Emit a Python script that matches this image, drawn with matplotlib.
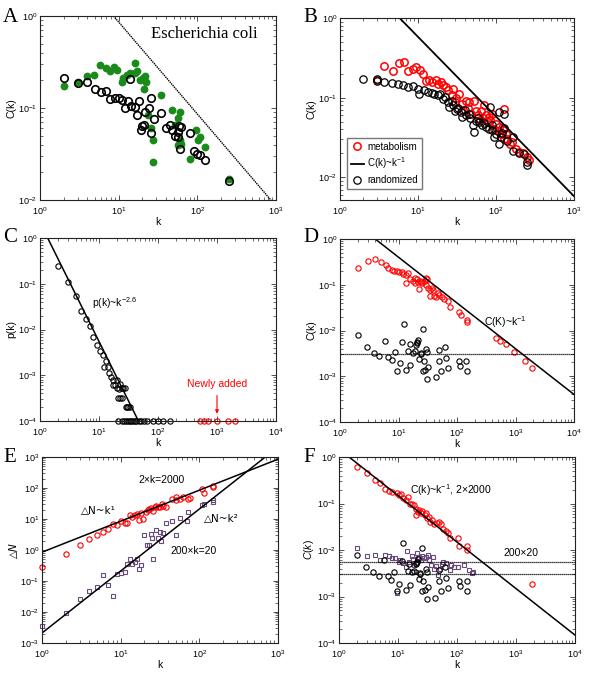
import matplotlib
matplotlib.use("Agg")
import matplotlib.pyplot as plt
import numpy as np

plt.rcParams['font.family'] = ['Liberation Sans', 'DejaVu Sans']
plt.rcParams['mathtext.fontset'] = 'custom'
plt.rcParams['mathtext.rm'] = 'Liberation Sans'
plt.rcParams['mathtext.it'] = 'Liberation Sans:italic'

# ---- panel A: E. coli, real (green) vs randomized (black)
a_rand_k = [2, 3, 4, 5, 6, 7, 7.7, 9, 10, 11, 12, 13, 14.5, 16, 17, 18, 14, 20, 19, 21, 21.5, 24, 26, 26,
            28, 35, 40, 45, 47, 52, 56, 58, 60, 62, 57, 80, 90, 98, 108, 127, 250]
a_rand_c = [0.214, 0.185, 0.19, 0.16, 0.15, 0.153, 0.125, 0.13, 0.127, 0.122, 0.1, 0.12, 0.106, 0.103,
            0.084, 0.12, 0.205, 0.063, 0.058, 0.065, 0.09, 0.1, 0.13, 0.054, 0.076, 0.088, 0.06, 0.065,
            0.057, 0.05, 0.055, 0.064, 0.036, 0.062, 0.049, 0.054, 0.034, 0.032, 0.031, 0.027, 0.016]
a_real_k = [2, 3, 4, 4.8, 5.8, 7, 7.7, 8.6, 9.4, 11, 11.4, 12.6, 14, 16, 16, 17, 18.7, 20.5, 21.5, 22.5,
            21, 23.7, 26, 27.5, 27, 35, 47, 52, 57, 60, 60, 57, 62, 80, 96, 108, 102, 125, 250]
a_real_c = [0.173, 0.19, 0.22, 0.23, 0.29, 0.27, 0.25, 0.28, 0.26, 0.19, 0.21, 0.23, 0.24, 0.31, 0.24,
            0.25, 0.2, 0.21, 0.22, 0.19, 0.16, 0.084, 0.06, 0.045, 0.026, 0.14, 0.095, 0.065, 0.077,
            0.09, 0.045, 0.04, 0.041, 0.028, 0.057, 0.049, 0.045, 0.038, 0.017]
a_fit_amp = 8.6

# ---- panel B: metabolism (red) vs randomized (black)
b_met_k = [3, 3.7, 4.8, 5.7, 6.7, 7.4, 8.6, 9.5, 10.5, 11.5, 12.5, 14, 15, 17, 18, 20, 21, 23, 24, 27,
           28, 31, 34, 37, 41, 45, 52, 55, 64, 70, 75, 82, 90, 100, 110, 122, 135, 128, 128, 150, 180,
           220, 250, 265, 30, 38, 44, 48, 58, 62, 68, 78, 85, 95, 105, 115, 140, 160, 200]
b_met_c = [0.166, 0.25, 0.215, 0.27, 0.28, 0.215, 0.23, 0.245, 0.22, 0.2, 0.16, 0.165, 0.157, 0.165,
           0.148, 0.157, 0.143, 0.137, 0.124, 0.107, 0.13, 0.1, 0.11, 0.084, 0.092, 0.088, 0.092, 0.069,
           0.069, 0.08, 0.06, 0.057, 0.063, 0.047, 0.043, 0.039, 0.035, 0.072, 0.03, 0.026, 0.023, 0.02,
           0.018, 0.0165, 0.088, 0.07, 0.075, 0.062, 0.06, 0.052, 0.055, 0.05, 0.052, 0.04, 0.038, 0.035,
           0.03, 0.028, 0.021]
b_rnd_k = [2, 3, 3, 3.7, 4.6, 5.6, 6.5, 7.5, 8.6, 10, 10.4, 12, 13.5, 15, 16, 18, 19, 21, 22.5, 24, 25,
           28, 29.5, 32, 36, 37, 41, 45, 50, 52, 55, 60, 66, 75, 82, 84, 90, 95, 100, 110, 110, 115, 128,
           128, 140, 165, 165, 200, 230, 250, 250, 27, 33, 40, 47, 58, 70, 88, 120]
b_rnd_c = [0.17, 0.17, 0.163, 0.158, 0.153, 0.15, 0.143, 0.135, 0.14, 0.127, 0.112, 0.124, 0.118, 0.115,
           0.112, 0.107, 0.112, 0.097, 0.102, 0.088, 0.076, 0.08, 0.069, 0.073, 0.066, 0.057, 0.06, 0.063,
           0.045, 0.037, 0.051, 0.049, 0.045, 0.043, 0.041, 0.076, 0.039, 0.032, 0.035, 0.066, 0.026,
           0.032, 0.042, 0.063, 0.029, 0.032, 0.0215, 0.0205, 0.0195, 0.0145, 0.0155, 0.09, 0.075, 0.07,
           0.055, 0.055, 0.048, 0.045, 0.036]
b_fit_amp = 5.8

# ---- panel C: degree distribution
c_k = [2, 3, 4, 5, 6, 7, 8, 9.4, 10.4, 11.5, 13, 12, 14, 15, 16, 17, 18.5, 20, 21.5, 23, 17, 20, 25,
       26, 21, 23, 25, 28, 29, 30, 31, 33,
       21, 25, 27, 29, 31, 33, 35, 37, 40, 43, 47, 52, 58, 64, 83, 100, 122, 160]
c_p = [0.248, 0.109, 0.053, 0.0256, 0.017, 0.0117, 0.007, 0.0046, 0.0034, 0.0028, 0.0021, 0.0015, 0.0015,
       0.0011, 0.00093, 0.0008, 0.00062, 0.0008, 0.0005, 0.00063, 0.00062, 0.00052, 0.00052, 0.00052,
       0.00032, 0.00032, 0.00032, 0.00052, 0.0002, 0.0002, 0.0002, 0.0002,
       1e-4, 1e-4, 1e-4, 1e-4, 1e-4, 1e-4, 1e-4, 1e-4, 1e-4, 1e-4, 1e-4, 1e-4, 1e-4, 1e-4, 1e-4, 1e-4,
       1e-4, 1e-4]
c_new_k = [516, 600, 710, 1000, 1560, 2000]
c_new_p = [1e-4] * 6
c_fit_amp = 2.18
c_fit_exp = -2.6

# ---- panel D: grown network (red) vs randomized (black)
d_grow_k = [2, 3, 4, 5, 6, 6.7, 7.6, 8.4, 9.5, 10.3, 11.5, 12, 13.5, 14.4, 15.5, 17.6, 19, 19, 20.8,
            13.5, 21.7, 23, 23.8, 22.5, 25.5, 28, 30, 30.5, 29, 32.5, 34, 35, 37, 38.5, 41, 44, 47, 50,
            55, 60, 70, 75, 110, 115, 147, 150, 460, 550, 680, 950, 1450, 1900]
d_grow_c = [0.23, 0.336, 0.36, 0.32, 0.27, 0.236, 0.21, 0.2, 0.2, 0.19, 0.19, 0.17, 0.16, 0.18, 0.134,
            0.12, 0.14, 0.11, 0.133, 0.11, 0.115, 0.12, 0.115, 0.08, 0.11, 0.12, 0.14, 0.135, 0.1, 0.083,
            0.075, 0.058, 0.086, 0.075, 0.057, 0.055, 0.065, 0.06, 0.055, 0.05, 0.044, 0.033, 0.026,
            0.022, 0.017, 0.015, 0.007, 0.006, 0.005, 0.0034, 0.0022, 0.0015]
rand_k = [2, 2.85, 3.8, 4.7, 5.8, 6.7, 7.6, 8.6, 9.5, 10.5, 11.5, 12.2, 13.5, 14.6, 15.5, 16, 17.6, 19,
          20, 20.5, 21, 21.8, 22.5, 23.8, 24, 26, 27, 26, 28.5, 30, 31, 32, 31, 43, 49, 50, 53, 62, 64,
          70, 107, 113, 145, 150]
rand_c = [0.0079, 0.0044, 0.0033, 0.0028, 0.006, 0.0027, 0.0023, 0.0034, 0.0013, 0.0019, 0.0057, 0.014,
          0.0014, 0.0035, 0.005, 0.0018, 0.0033, 0.0036, 0.0049, 0.0052, 0.0056, 0.0063, 0.0024, 0.003,
          0.0032, 0.011, 0.0022, 0.0013, 0.0014, 0.0039, 0.0034, 0.0016, 0.00089, 0.00095, 0.0037,
          0.0022, 0.0013, 0.0044, 0.0025, 0.0015, 0.0022, 0.0017, 0.0022, 0.0013]
d_fit_amp = 4.0
d_rand_level = 0.0031

# ---- panel E: added links vs degree
e_red_k = [1, 2, 3, 4, 5, 6, 7, 8, 9, 10, 11.4, 12, 13, 14, 15, 16, 17, 18, 19, 21, 22, 23, 24.5, 26,
           27, 28, 30, 32, 34, 35, 38, 45, 50, 51, 56, 62, 72, 75, 107, 113, 148, 150]
e_red_n = [0.28, 0.76, 1.5, 2.3, 2.97, 3.8, 4.8, 7.1, 6.2, 8.4, 7.4, 7.4, 13, 11.6, 13, 14, 9, 15.5,
           10.3, 17, 19, 21.5, 23, 18, 24, 27, 24, 24, 31, 27, 25, 45, 51, 42, 43, 51, 45, 47, 91, 70,
           112, 107]
e_sq_k = [1, 2, 3, 4, 5, 6, 7, 8, 9, 10, 11.4, 12, 13, 14, 15, 16, 17, 18, 20, 21.5, 23, 24, 25, 26, 28,
          30, 31.5, 33, 35, 38, 45, 50, 56, 70, 72, 107, 113, 148, 150]
e_sq_n = [0.0035, 0.0093, 0.026, 0.046, 0.064, 0.16, 0.076, 0.032, 0.17, 0.18, 0.2, 0.36, 0.51, 0.36,
          0.4, 0.5, 0.25, 0.32, 3, 1.5, 1.5, 3.4, 2.5, 0.53, 4.3, 2.5, 3.8, 2, 3.5, 7.4, 8.6, 3, 10.5,
          8.4, 16.8, 29, 31, 42, 35]
e_fit1_amp = 0.85
e_fit2_amp = 0.0021

# ---- panel F: 2x2000 (red), 200x20 (purple), randomized (black)
f_red_k = [2, 3, 4, 5, 6, 7, 8, 9.5, 10.3, 11.3, 12.2, 13.5, 15, 15.8, 17.5, 19, 20, 20, 21.5, 23, 25,
           26, 29, 30, 31, 34, 35, 38, 40, 45, 50, 54, 58, 65, 70, 75, 105, 110, 145, 150, 1900]
f_red_c = [0.61, 0.46, 0.32, 0.27, 0.21, 0.19, 0.18, 0.17, 0.15, 0.16, 0.13, 0.12, 0.14, 0.1, 0.1, 0.092,
           0.078, 0.056, 0.066, 0.072, 0.063, 0.068, 0.056, 0.063, 0.048, 0.052, 0.04, 0.044, 0.036,
           0.038, 0.041, 0.036, 0.028, 0.025, 0.023, 0.018, 0.018, 0.012, 0.012, 0.01, 0.0019]
f_sq_k = [2, 3, 4, 5, 6, 7, 8, 9, 9.5, 10.5, 11, 12, 13.5, 14, 15.5, 17, 18, 19, 20, 21, 22, 23, 25, 26,
          28, 30, 32, 34, 36, 39, 41, 44, 48, 51, 55, 58, 65, 75, 80, 88, 105, 130, 160, 180, 185]
f_sq_c = [0.0112, 0.0075, 0.008, 0.0061, 0.008, 0.0075, 0.0066, 0.0066, 0.0012, 0.0056, 0.006, 0.0052,
          0.0044, 0.0097, 0.0056, 0.0075, 0.0063, 0.0048, 0.0034, 0.0085, 0.0066, 0.0072, 0.006, 0.0075,
          0.0066, 0.0072, 0.0078, 0.006, 0.0048, 0.007, 0.004, 0.0046, 0.0029, 0.004, 0.005, 0.0056,
          0.0052, 0.0037, 0.0048, 0.0044, 0.0044, 0.0048, 0.0037, 0.0032, 0.0033]
f_fit_amp = 1.48
f_sq_level = 0.0056
f_rand_level = 0.0031

W, H = 600, 675
fig = plt.figure(figsize=(W / 100, H / 100), dpi=100)


def decades(lo, hi):
    return [10.0 ** e for e in range(int(np.ceil(np.log10(lo) - 1e-9)), int(np.floor(np.log10(hi) + 1e-9)) + 1)]


def make_ax(l, r, t, b, xlim, ylim):
    ax = fig.add_axes([l / W, 1 - b / H, (r - l) / W, (b - t) / H])
    ax.set_xscale('log')
    ax.set_yscale('log')
    ax.set_xticks(decades(*xlim))
    ax.set_yticks(decades(*ylim))
    ax.set_xlim(*xlim)
    ax.set_ylim(*ylim)
    ax.tick_params(which='both', direction='in', top=True, right=True, labelsize=6.5,
                   color='#333333')
    ax.tick_params(axis='x', pad=3.5)
    ax.tick_params(axis='y', pad=2)
    ax.tick_params(which='major', length=3.5, width=0.6)
    ax.tick_params(which='minor', length=2, width=0.5)
    for s in ax.spines.values():
        s.set_linewidth(0.8)
        s.set_color('#222222')
    ax.set_xlabel('k', fontsize=7.5, labelpad=0)
    return ax


def letter(x, y, s):
    fig.text(x / W, 1 - y / H, s, fontsize=15, family='Liberation Serif', va='center', ha='left')


open_c = dict(ls='none', marker='o', mfc='none')
sq = dict(ls='none', marker='s', mfc='none', mec='#6a4a78')
dv = ['DejaVu Sans']

# A
ax = make_ax(40, 276, 16, 200, (1, 1e3), (1e-2, 1))
ax.plot(a_real_k, a_real_c, ls='none', marker='o', color='#1a8a1a', ms=4.6)
ax.plot(a_rand_k, a_rand_c, mec='black', ms=5.4, mew=1.2, **open_c)
kk = np.array([1, 1e3])
ax.plot(kk, a_fit_amp / kk, color='black', lw=1, ls=(0, (1, 0.6)))
ax.text(0.92, 0.9, 'Escherichia coli', transform=ax.transAxes, ha='right', va='center',
        fontsize=12, family='Liberation Serif')
ax.set_ylabel('C(k)', fontsize=7.5, labelpad=1)
letter(3, 17, 'A')

# B
ax = make_ax(340, 574, 18, 200, (1, 1e3), (5.2e-3, 1))
ax.plot(b_met_k, b_met_c, mec='red', ms=5.3, mew=1.1, label='metabolism', **open_c)
ax.plot(kk, b_fit_amp / kk, color='black', lw=1.3, label='C(k)~k$^{-1}$')
ax.plot(b_rnd_k, b_rnd_c, mec='black', ms=5.3, mew=0.9, label='randomized', **open_c)
ax.legend(loc='lower left', bbox_to_anchor=(0.03, 0.06), fontsize=7, frameon=True, fancybox=False,
          edgecolor='#555555', handlelength=1.3, handletextpad=0.4, borderpad=0.4, labelspacing=0.4,
          borderaxespad=0)
ax.set_ylabel('C(k)', fontsize=7.5, labelpad=1)
letter(303, 17, 'B')

# C
ax = make_ax(40, 276, 238, 421, (1, 1e4), (1e-4, 1))
ax.plot(c_k, c_p, mec='black', ms=3.8, mew=0.8, clip_on=False, **open_c)
ax.plot(c_new_k, c_new_p, mec='red', ms=3.8, mew=0.8, clip_on=False, **open_c)
kc = np.array([1, 1e4])
ax.plot(kc, c_fit_amp * kc ** c_fit_exp, color='black', lw=1.1)
ax.text(7.5, 0.038, 'p(k)~k$^{-2.6}$', fontsize=7.5, ha='left', va='center')
ax.annotate('Newly added', xy=(1000, 1.25e-4), xytext=(1000, 6.6e-4), color='red', fontsize=7.5,
            ha='center', va='center',
            arrowprops=dict(arrowstyle='-|>', color='red', lw=0.8, mutation_scale=5, shrinkA=3))
ax.set_ylabel('p(k)', fontsize=7.5, labelpad=1)
letter(3, 238, 'C')

# D
ax = make_ax(340, 574, 239, 422, (1, 1e4), (1e-4, 1))
ax.plot(d_grow_k, d_grow_c, mec='red', ms=3.8, mew=0.8, **open_c)
ax.plot(rand_k, rand_c, mec='black', ms=3.8, mew=0.8, **open_c)
ax.plot(kc, d_fit_amp / kc, color='black', lw=1.1)
ax.axhline(d_rand_level, color='black', lw=0.9, ls=(0, (1, 0.6)))
ax.text(295, 0.0155, 'C(K)~k$^{-1}$', fontsize=7.5, ha='left', va='center')
ax.set_ylabel('C(k)', fontsize=7.5, labelpad=1)
letter(303, 238, 'D')

# E
ax = make_ax(42, 278, 457, 643, (1, 1e3), (1e-3, 1e3))
ax.plot(e_red_k, e_red_n, mec='red', ms=3.8, mew=0.8, clip_on=False, **open_c)
ax.plot(e_sq_k, e_sq_n, ms=3.2, mew=0.8, clip_on=False, **sq)
ax.plot(kk, e_fit1_amp * kk, color='black', lw=1.1)
ax.plot(kk, e_fit2_amp * kk ** 2, color='black', lw=1.1)
ax.text(16.6, 186, '2×k=2000', fontsize=7.5, ha='left', va='center')
ax.text(3.16, 17.6, '△N~k¹', fontsize=7.5, ha='left', va='center', family=dv)
ax.text(113, 10.2, '△N~k²', fontsize=7.5, ha='left', va='center', family=dv)
ax.text(43, 0.93, '200×k=20', fontsize=7.5, ha='left', va='center')
ax.set_ylabel('△N', fontsize=7.5, labelpad=1, family=dv, style='italic')
letter(3, 458, 'E')

# F
ax = make_ax(339, 575, 457, 643, (1, 1e4), (1e-4, 1))
ax.plot(f_red_k, f_red_c, mec='red', ms=3.8, mew=0.8, **open_c)
ax.plot(f_sq_k, f_sq_c, ms=3.2, mew=0.8, **sq)
ax.plot(rand_k, rand_c, mec='black', ms=3.8, mew=0.8, **open_c)
ax.plot(kc, f_fit_amp / kc, color='black', lw=1.1)
ax.axhline(f_sq_level, color='black', lw=0.9, ls=(0, (1, 0.6)))
ax.axhline(f_rand_level, color='black', lw=0.9, ls=(0, (1, 0.6)))
ax.text(15.8, 0.19, 'C(k)~k$^{-1}$, 2×2000', fontsize=7.5, ha='left', va='center')
ax.text(620, 0.0085, '200×20', fontsize=7.5, ha='left', va='center')
ax.set_ylabel('$C(k)$', fontsize=7.5, labelpad=1)
letter(303, 458, 'F')

fig.savefig('out.png', dpi=100)
